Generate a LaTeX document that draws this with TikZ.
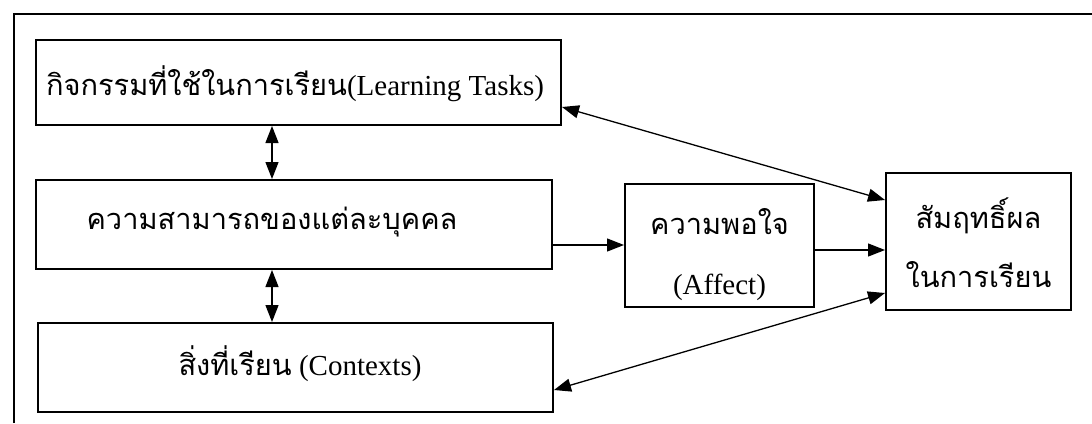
\documentclass[tikz,border=0pt]{standalone}
\usepackage{fontspec}
\setmainfont{Liberation Serif}
\newfontfamily\thai[Script=Thai]{Loma}
\usetikzlibrary{arrows.meta}
\begin{document}
\begin{tikzpicture}[x=1pt,y=-1pt,
  box/.style={draw, line width=2pt, inner sep=0pt},
  lbl/.style={inner sep=0pt, font=\fontsize{29}{36}\selectfont, align=center},
  conn/.style={line width=1.3pt, -{Triangle[length=17pt,width=13pt]}},
  dconn/.style={line width=1.3pt, {Triangle[length=17pt,width=13pt]}-{Triangle[length=17pt,width=13pt]}}]
\useasboundingbox (0,0) rectangle (1092,423);
% frame
\draw[line width=2.3pt] (14,423) -- (14,14) -- (1092,14);
% boxes
\node[box, minimum width=525pt, minimum height=85pt] (b1) at (298.5,82.5) {};
\node[box, minimum width=516pt, minimum height=89pt] (b2) at (294,224.5) {};
\node[box, minimum width=515pt, minimum height=89pt] (b3) at (295.5,367.5) {};
\node[box, minimum width=189pt, minimum height=123pt] (af) at (719.5,245.5) {};
\node[box, minimum width=185pt, minimum height=137pt] (rb) at (978.5,241.5) {};
% texts
\node[lbl] (t1) at (295,84) {{\thai กิจกรรมที่ใช้ในการเรียน}(Learning Tasks)};
\node[lbl] (t2) at (272,222) {\thai ความสามารถของแต่ละบุคคล};
\node[lbl] (t3) at (300,364) {{\thai สิ่งที่เรียน} (Contexts)};
\node[lbl] (t4) at (719.5,222) {\thai ความพอใจ};
\node[lbl] (t5) at (719.5,287) {(Affect)};
\node[lbl] (t6) at (978.5,216) {\thai สัมฤทธิ์ผล};
\node[lbl] (t7) at (978.5,275) {\thai ในการเรียน};
% connectors
\coordinate (vx) at (272,0);
\draw[dconn] (b1.south -| vx) -- (b2.north -| vx);
\draw[dconn] (b2.south -| vx) -- (b3.north -| vx);
\draw[conn] ([yshift=-20.5pt]b2.east) -- ([yshift=0.5pt]af.west);
\draw[conn] ([yshift=-4.5pt]af.east) -- ([yshift=-8.5pt]rb.west);
\draw[dconn] ([yshift=-24.5pt]b1.east) -- ([yshift=41.5pt]rb.west);
\draw[dconn] ([yshift=-22.5pt]b3.east) -- ([yshift=-51.5pt]rb.west);
\end{tikzpicture}
\end{document}
